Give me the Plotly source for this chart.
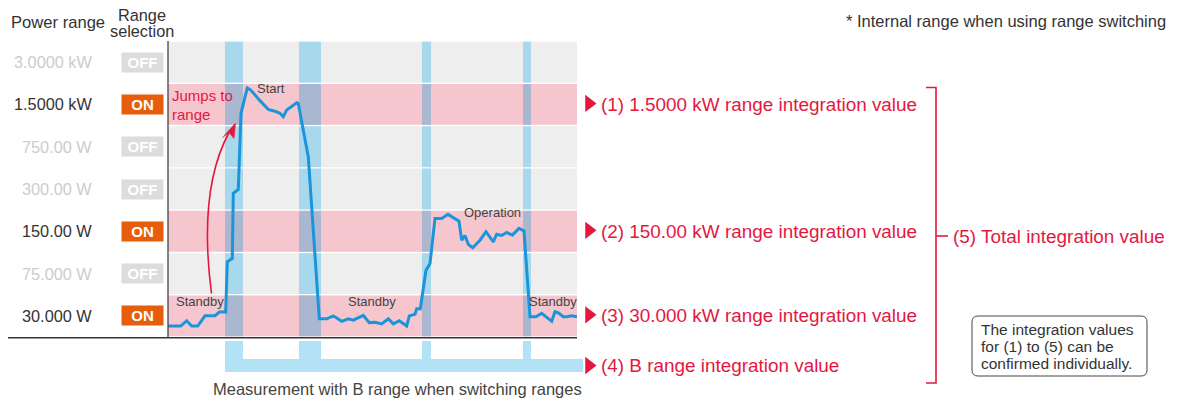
import plotly.graph_objects as go

# ---------------- data ----------------
range_labels = ["3.0000 kW", "1.5000 kW", "750.00 W", "300.00 W", "150.00 W", "75.000 W", "30.000 W"]
range_selected = [False, True, False, False, True, False, True]

# periods measured with the B range while switching (time units)
switch_start = [57, 131, 254, 355]
switch_end = [75, 153, 263, 363]

# measured power, expressed as position on the range scale (0 = bottom of 30.000 W row)
time = [0, 12.7, 18.7, 23.7, 29.7, 37, 47, 51.3, 57.7, 59.3, 64.3, 65.3, 70.3, 73, 79.3, 82.7,
        92, 100.3, 107, 112, 115.3, 118.7, 125.3, 128.7, 130.3, 140.3, 151.3, 158.7, 165.3,
        173.7, 180.3, 185.3, 195.3, 201.3, 207, 213.7, 220.3, 225.3, 231.3, 238.7, 241.3, 247,
        248.7, 252.3, 258, 262, 267, 273.7, 280, 291, 293.7, 297, 300.3, 304.7, 312, 318, 325.3,
        328.7, 333.7, 338.7, 344.3, 351, 356, 362, 368, 373.7, 383.7, 387, 390.3, 395.3, 398.7,
        403.7, 409]
level = [0.26, 0.26, 0.385, 0.26, 0.26, 0.50, 0.50, 0.59, 0.59, 1.78, 1.86, 3.40, 3.49, 5.29, 5.89, 5.84,
         5.59, 5.38, 5.34, 5.29, 5.21, 5.37, 5.48, 5.54, 5.52, 4.26, 0.43, 0.43, 0.50,
         0.37, 0.43, 0.40, 0.51, 0.34, 0.35, 0.31, 0.43, 0.31, 0.385, 0.26, 0.50, 0.54,
         0.67, 0.67, 1.58, 1.74, 2.80, 2.80, 2.90, 2.74, 2.29, 2.40, 2.19, 2.11, 2.29, 2.49, 2.25,
         2.43, 2.40, 2.47, 2.41, 2.57, 2.51, 0.48, 0.48, 0.56, 0.37, 0.60, 0.57, 0.48, 0.48,
         0.50, 0.48]

integration_labels = ["(1) 1.5000 kW range integration value",
                      "(2) 150.00 kW range integration value",
                      "(3) 30.000 kW range integration value"]
integration_ranges = ["1.5000 kW", "150.00 W", "30.000 W"]
b_range_label = "(4) B range integration value"
total_label = "(5) Total integration value"

# ---------------- layout constants ----------------
W, H = 1177, 401
PX_L, PX_R = 168, 577
PX_T, PX_B = 41, 337
T_MAX = 409
N = len(range_labels)
ROW_H = (PX_B - PX_T) / N

FONT = "Liberation Sans, Arial, Helvetica, sans-serif"
RED = "#e5173f"
DARK = "#333333"
GRAY_BG = "#eeeeee"
PINK_BG = "#f6c6ce"
BAND_GRAY = "#a8d8ec"
BAND_PINK = "#a9b7d1"
B_LIGHT = "#b3e2f7"
LINE_BLUE = "#1a95db"
ORANGE = "#e85d0c"
OFF_GRAY = "#dcdcdc"


def tx(t):
    return PX_L + t * (PX_R - PX_L) / T_MAX


def ry(lv):
    return PX_B - lv * ROW_H


def row_level(label):
    return N - 1 - range_labels.index(label)


fig = go.Figure()

# measured power line
fig.add_trace(go.Scatter(x=time, y=level, mode="lines", xaxis="x", yaxis="y",
                         line=dict(color=LINE_BLUE, width=3), hoverinfo="skip", showlegend=False))

# red triangles (markers)
tri_y = [ry(row_level(r) + 0.5) - 1 for r in integration_ranges] + [365.5]
fig.add_trace(go.Scatter(x=[589] * len(tri_y), y=tri_y, mode="markers", xaxis="x2", yaxis="y2",
                         marker=dict(symbol="triangle-right", size=15, color=RED),
                         hoverinfo="skip", showlegend=False))

shapes = []
annotations = []
gap = 0.7 / ROW_H

# rows and switching bands
for k, sel in enumerate(range_selected):
    lo = N - 1 - k
    shapes.append(dict(type="rect", xref="x", yref="y", x0=0, x1=T_MAX, y0=lo + gap, y1=lo + 1 - gap,
                       fillcolor=PINK_BG if sel else GRAY_BG, line=dict(width=0), layer="below"))
    for s, e in zip(switch_start, switch_end):
        shapes.append(dict(type="rect", xref="x", yref="y", x0=s, x1=e, y0=lo + gap, y1=lo + 1 - gap,
                           fillcolor=BAND_PINK if sel else BAND_GRAY, line=dict(width=0), layer="below"))

    # range label
    annotations.append(dict(xref="x2", yref="y", x=94, y=lo + 0.5, xanchor="right", yanchor="middle",
                            text=range_labels[k], showarrow=False,
                            font=dict(family=FONT, size=16.3, color=DARK if sel else "#cccccc")))
    # badge
    annotations.append(dict(xref="x2", yref="y", x=142.5, y=lo + 0.5, xanchor="center", yanchor="middle",
                            text="<b>ON</b>" if sel else "<b>OFF</b>", showarrow=False,
                            width=41, height=19, borderpad=0, bgcolor=ORANGE if sel else OFF_GRAY,
                            font=dict(family=FONT, size=15, color="white")))

# axes lines
shapes.append(dict(type="line", xref="x2", yref="y2", x0=tx(0), x1=tx(0), y0=PX_T, y1=PX_B + 0.5,
                   line=dict(color="#444444", width=1.3), layer="above"))
shapes.append(dict(type="line", xref="x2", yref="y2", x0=8, x1=tx(T_MAX), y0=PX_B + 0.8, y1=PX_B + 0.8,
                   line=dict(color="#333333", width=1.6), layer="above"))

# B-range schematic below the chart
for s, e in zip(switch_start, switch_end):
    shapes.append(dict(type="rect", xref="x2", yref="y2", x0=tx(s), x1=tx(e), y0=341, y1=372,
                       fillcolor=B_LIGHT, line=dict(width=0)))
shapes.append(dict(type="rect", xref="x2", yref="y2", x0=tx(switch_start[0]), x1=583, y0=359, y1=372,
                   fillcolor=B_LIGHT, line=dict(width=0)))

# curved red arrow ("Jumps to range")
shapes.append(dict(type="path", xref="x2", yref="y2",
                   path="M 211.5,293.5 Q 198,190 229,132.5",
                   line=dict(color=RED, width=1.6), layer="above"))
shapes.append(dict(type="path", xref="x2", yref="y2",
                   path="M 235.5,123 L 222.5,137.5 L 229,132.5 L 234,138.5 Z",
                   fillcolor=RED, line=dict(color=RED, width=0.5), layer="above"))

# bracket for total
shapes.append(dict(type="path", xref="x2", yref="y2",
                   path="M 926,87.5 L 936,87.5 L 936,383 L 926,383",
                   line=dict(color=RED, width=1.6)))
shapes.append(dict(type="line", xref="x2", yref="y2", x0=936, x1=948, y0=236, y1=236,
                   line=dict(color=RED, width=1.6)))

# note box
shapes.append(dict(type="path", xref="x2", yref="y2",
                   path="M 978,316 L 1141,316 Q 1147,316 1147,322 L 1147,370 Q 1147,376 1141,376 "
                        "L 978,376 Q 972,376 972,370 L 972,322 Q 972,316 978,316 Z",
                   line=dict(color="#444444", width=1), fillcolor="white"))


def txt(x, y, text, size, color=DARK, xanchor="left", yref="y2"):
    annotations.append(dict(xref="x2", yref=yref, x=x, y=y, xanchor=xanchor, yanchor="middle",
                            text=text, showarrow=False, font=dict(family=FONT, size=size, color=color)))


# headers
txt(58, 22, "Power range", 16.6, xanchor="center")
txt(142, 15, "Range", 16.3, xanchor="center")
txt(142, 31, "selection", 16.3, xanchor="center")
txt(1168, 21, "* Internal range when using range switching", 16.5, xanchor="right")

# in-chart labels
txt(170, 95, "Jumps to", 15, color=RED)
txt(170, 114, "range", 15, color=RED)
txt(255, 88, "Start", 13, color="#444444")
txt(174, 301, "Standby", 13, color="#444444")
txt(346, 301, "Standby", 13, color="#444444")
txt(527, 301, "Standby", 13, color="#444444")
txt(462, 212, "Operation", 13, color="#444444")

# right-hand labels
for lbl, r in zip(integration_labels, integration_ranges):
    txt(599, row_level(r) + 0.5, lbl, 18.9, color=RED, yref="y")
txt(599, 365, b_range_label, 18.9, color=RED)
txt(951, 236, total_label, 18.9, color=RED)

txt(397, 389, "Measurement with B range when switching ranges", 16.5, color="#444444", xanchor="center")

# note text
txt(979, 329, "The integration values", 15.5)
txt(979, 346, "for (1) to (5) can be", 15.5)
txt(979, 363, "confirmed individually.", 15.5)

fig.update_layout(
    width=W, height=H, margin=dict(l=0, r=0, t=0, b=0),
    paper_bgcolor="white", plot_bgcolor="rgba(0,0,0,0)",
    showlegend=False, shapes=shapes, annotations=annotations,
    xaxis=dict(domain=[PX_L / W, PX_R / W], range=[0, T_MAX], visible=False, fixedrange=True, anchor="y"),
    yaxis=dict(domain=[1 - PX_B / H, 1 - PX_T / H], range=[0, N], visible=False, fixedrange=True, anchor="x"),
    xaxis2=dict(domain=[0, 1], range=[0, W], visible=False, fixedrange=True, anchor="y2"),
    yaxis2=dict(domain=[0, 1], range=[H, 0], visible=False, fixedrange=True, anchor="x2"),
)

fig.write_html("out.html", config={"displayModeBar": False},
               post_script="document.body.style.margin='0';document.body.style.overflow='hidden';")
